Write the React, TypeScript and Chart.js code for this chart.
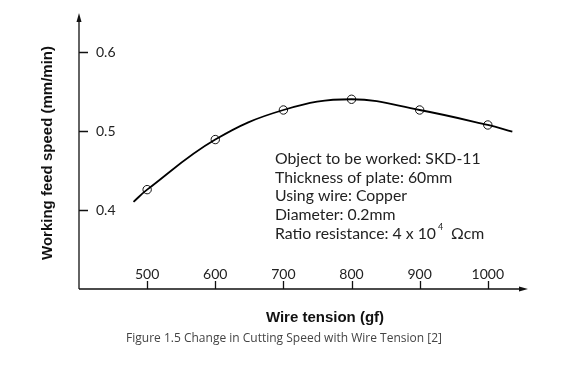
import React, { useEffect, useRef } from "react";
import { Chart, registerables } from "chart.js";
Chart.register(...registerables);

// Measured points (wire tension gf -> working feed speed mm/min)
const tensions = [500, 600, 700, 800, 900, 1000];
const speeds = [0.426, 0.4895, 0.527, 0.5406, 0.527, 0.508];
// Smooth fitted curve as drawn (includes its drawn end points)
const curveTensions = [480, 500, 600, 700, 800, 900, 1000, 1036];
const curveSpeeds = [0.4105, 0.426, 0.4895, 0.527, 0.5406, 0.527, 0.508, 0.4996];
// Tick labels
const xTicks = [500, 600, 700, 800, 900, 1000];
const yTicks = [0.4, 0.5, 0.6];
const xTitle = "Wire tension (gf)";
const yTitle = "Working feed speed (mm/min)";
const caption = "Figure 1.5 Change in Cutting Speed with Wire Tension [2]";
const notes = [
  "Object to be worked: SKD-11",
  "Thickness of plate: 60mm",
  "Using wire: Copper",
  "Diameter: 0.2mm",
];
const ratioPrefix = "Ratio resistance: 4 x 10";
const ratioExp = "4";
const ratioSuffix = "Ωcm";

const TICK_FONT = '14px "Lato", "DejaVu Sans", sans-serif';
const NOTE_FONT = '15.8px "Lato", "DejaVu Sans", sans-serif';
const TITLE_FONT = 'bold 15px "Liberation Sans", "DejaVu Sans", sans-serif';
const CAPTION_FONT = '12px "Open Sans", "Liberation Sans", sans-serif';

const axesPlugin = {
  id: "customAxes",
  afterDraw(chart: any) {
    const ctx = chart.ctx as CanvasRenderingContext2D;
    const xs = chart.scales.x;
    const ys = chart.scales.y;
    const { left, right, top, bottom } = chart.chartArea;
    ctx.save();
    ctx.strokeStyle = "#111";
    ctx.fillStyle = "#111";
    ctx.lineWidth = 1.3;
    // axes
    ctx.beginPath();
    ctx.moveTo(left, bottom);
    ctx.lineTo(left, top + 6);
    ctx.moveTo(left, bottom);
    ctx.lineTo(right - 6, bottom);
    ctx.stroke();
    // arrowheads
    ctx.beginPath();
    ctx.moveTo(left, top);
    ctx.lineTo(left - 2.5, top + 9);
    ctx.lineTo(left + 2.5, top + 9);
    ctx.closePath();
    ctx.fill();
    ctx.beginPath();
    ctx.moveTo(right, bottom);
    ctx.lineTo(right - 9, bottom - 2.5);
    ctx.lineTo(right - 9, bottom + 2.5);
    ctx.closePath();
    ctx.fill();
    // ticks
    ctx.lineWidth = 1.3;
    ctx.beginPath();
    xTicks.forEach((v) => {
      const px = Math.round(xs.getPixelForValue(v)) + 0.5;
      ctx.moveTo(px, bottom);
      ctx.lineTo(px, bottom - 8);
    });
    yTicks.forEach((v) => {
      const py = Math.round(ys.getPixelForValue(v)) + 0.5;
      ctx.moveTo(left, py);
      ctx.lineTo(left + 9, py);
    });
    ctx.stroke();
    // tick labels
    ctx.fillStyle = "#222";
    ctx.font = TICK_FONT;
    ctx.textAlign = "center";
    ctx.textBaseline = "alphabetic";
    xTicks.forEach((v) => {
      ctx.fillText(String(v), xs.getPixelForValue(v), bottom - 10);
    });
    ctx.textAlign = "left";
    ctx.textBaseline = "middle";
    yTicks.forEach((v) => {
      ctx.fillText(v.toFixed(1), left + 17, ys.getPixelForValue(v));
    });
    // axis titles
    ctx.fillStyle = "#111";
    ctx.font = TITLE_FONT;
    ctx.textAlign = "center";
    ctx.textBaseline = "middle";
    ctx.fillText(xTitle, 325, 318);
    ctx.save();
    ctx.translate(48, (top + bottom) / 2 + 2);
    ctx.rotate(-Math.PI / 2);
    ctx.fillText(yTitle, 0, 0);
    ctx.restore();
    // notes
    ctx.fillStyle = "#222";
    ctx.font = NOTE_FONT;
    ctx.textAlign = "left";
    ctx.textBaseline = "middle";
    const nx = 275;
    const ny = 159;
    const lh = 18.6;
    notes.forEach((t, i) => ctx.fillText(t, nx, ny + i * lh));
    const ry = ny + notes.length * lh;
    ctx.fillText(ratioPrefix, nx, ry);
    const w1 = ctx.measureText(ratioPrefix).width;
    ctx.font = '9px "Lato", "DejaVu Sans", sans-serif';
    ctx.fillText(ratioExp, nx + w1 + 2, ry - 6);
    ctx.font = NOTE_FONT;
    ctx.fillText(ratioSuffix, nx + w1 + 15, ry);
    // caption
    ctx.fillStyle = "#444";
    ctx.font = CAPTION_FONT;
    ctx.textAlign = "center";
    ctx.fillText(caption, 284, 339);
    ctx.restore();
  },
};

export default function App() {
  const ref = useRef<HTMLCanvasElement | null>(null);
  useEffect(() => {
    if (!ref.current) return;
    const chart = new Chart(ref.current, {
      type: "scatter",
      data: {
        datasets: [
          {
            type: "line",
            data: curveTensions.map((x, i) => ({ x, y: curveSpeeds[i] })),
            borderColor: "#000",
            borderWidth: 1.8,
            pointRadius: 0,
            tension: 0.4,
            fill: false,
            clip: false,
          } as any,
          {
            type: "scatter",
            data: tensions.map((x, i) => ({ x, y: speeds[i] })),
            borderColor: "#111",
            backgroundColor: "rgba(0,0,0,0)",
            borderWidth: 1,
            pointRadius: 4.2,
            clip: false,
          } as any,
        ],
      },
      options: {
        responsive: false,
        animation: false,
        layout: { padding: { left: 79, right: 48, top: 13, bottom: 81 } },
        plugins: { legend: { display: false }, tooltip: { enabled: false } },
        scales: {
          x: { type: "linear", min: 400, max: 1059, display: false },
          y: { type: "linear", min: 0.3, max: 0.65, display: false },
        },
      },
      plugins: [axesPlugin],
    });
    return () => chart.destroy();
  }, []);
  return (
    <div style={{ position: "fixed", left: 0, top: 0, width: 576, height: 370, background: "#fff" }}>
      <canvas ref={ref} width={576} height={370} />
    </div>
  );
}
